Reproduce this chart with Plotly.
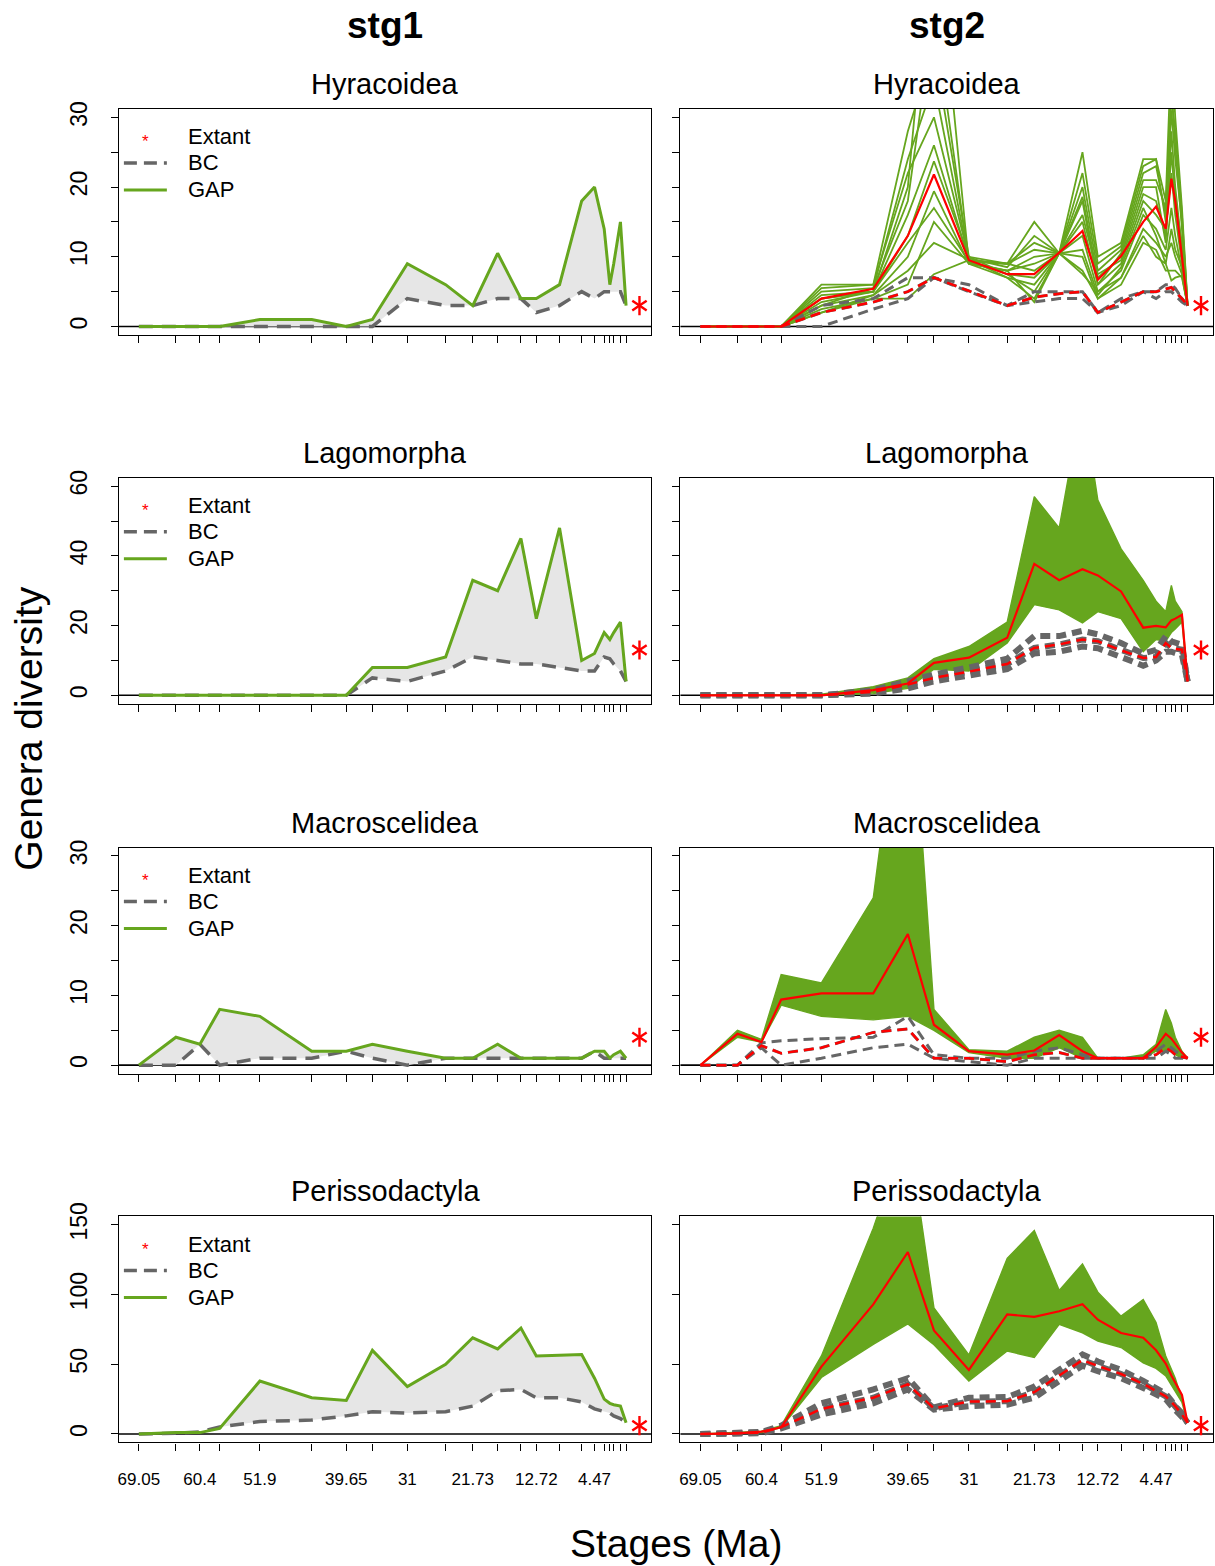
import plotly.graph_objects as go

# ---------------- data ----------------
stages = [69.05, 63.8, 60.4, 57.6, 51.9, 44.55, 39.65, 35.95, 31.0, 25.57, 21.73,
          18.2, 14.9, 12.72, 9.43, 6.29, 4.47, 3.1, 2.3, 1.75, 0.8, 0.0]
stage_labels = ["69.05", "", "60.4", "", "51.9", "", "39.65", "", "31", "", "21.73",
                "", "", "12.72", "", "", "4.47", "", "", "", "", ""]
extant_age = -1.9
clades = ["Hyracoidea", "Lagomorpha", "Macroscelidea", "Perissodactyla"]
extant_genera = [3, 13, 4, 6]

# stg1 : GAP and BC
hyr_gap = [0, 0, 0, 0, 1, 1, 0, 1, 9, 6, 3, 10.5, 4, 4, 6, 18, 20, 14, 6, 9, 15, 3]
hyr_bc = [0, 0, 0, 0, 0, 0, 0, 0, 4, 3, 3, 4, 4, 2, 3, 5, 4, 5, 5, 5, 5, 3]
lag_gap = [0, 0, 0, 0, 0, 0, 0, 8, 8, 11, 33, 30, 45, 22, 48, 10, 12, 18, 16, 18, 21, 4]
lag_bc = [0, 0, 0, 0, 0, 0, 0, 5, 4, 7, 11, 10, 9, 9, 8, 7, 7, 11, 10.5, 9, 7, 4]
mac_gap = [0, 4, 3, 8, 7, 2, 2, 3, 2, 1, 1, 3, 1, 1, 1, 1, 2, 2, 1, 1.5, 2, 1]
mac_bc = [0, 0, 3, 0, 1, 1, 2, 1, 0, 1, 1, 1, 1, 1, 1, 1, 2, 1, 1, 1, 1, 1]
per_gap = [0, 1, 1, 4, 38, 26, 24, 60, 34, 50, 69, 61, 76, 56, 56.5, 57, 40, 25, 22, 21, 20, 8]
per_bc = [0, 0.5, 1.5, 5, 9, 10, 13, 16, 15, 16, 20, 31, 32, 26, 26, 23, 18, 16, 15, 13, 11, 8]

# stg2 : mean GAP (red), mean BC (red dashed), replicate lines / envelopes
hyr2_mean_gap = [0, 0, 0, 0, 4, 5.4, 13, 21.8, 9.5, 7.5, 7.5, 10.6, 13.7, 6.7, 10.1, 15, 17.2, 14, 21.2, 18, 10, 3]
hyr2_mean_bc = [0, 0, 0, 0, 2, 3.5, 5, 7, 5.1, 3, 4.2, 4.7, 5, 2, 3.5, 5, 5, 5.4, 5.6, 5, 4, 3]
hyr2_rep1 = [0, 0, 0, 0, 6, 6, 28, 40, 10, 9, 15, 10.5, 25, 10, 12, 24, 24, 18, 40, 30, 17, 3]
hyr2_rep2 = [0, 0, 0, 0, 5, 5.5, 24, 35, 9.5, 9, 12, 10.5, 20, 8, 11, 22, 23, 16, 34, 26, 14, 3]
hyr2_rep3 = [0, 0, 0, 0, 4.5, 5, 20, 60, 9, 8, 9, 10.5, 18.6, 7, 10, 20, 20, 12, 28, 20, 11, 3]
hyr2_rep4 = [0, 0, 0, 0, 4, 5, 16, 26, 9.5, 7.5, 7, 10.5, 15, 6, 9, 18, 16, 14, 22, 16, 9, 3]
hyr2_rep5 = [0, 0, 0, 0, 3.5, 5, 13, 23.7, 10, 7.5, 5, 10.5, 13, 5, 8, 16, 14, 11, 17, 13, 8, 3]
hyr2_rep6 = [0, 0, 0, 0, 3, 4.5, 10, 19.4, 9, 7, 4, 10.5, 10, 4, 7, 14, 12, 10, 12, 10, 7.5, 3]
hyr2_rep7 = [0, 0, 0, 0, 2, 4, 6, 15, 9, 8, 3.5, 10.5, 8, 4, 6, 12, 11, 8, 8, 8, 7, 3]
hyr2_rep8 = [0, 0, 0, 0, 2.5, 4, 4, 7.5, 9.5, 9, 8, 10.5, 7.5, 5, 7, 13, 10, 9, 6.6, 7, 7.3, 3]
hyr2_rep9 = [0, 0, 0, 0, 5.5, 6, 22, 30, 9.8, 8.5, 13, 10.5, 22, 9, 11.5, 23, 24, 15, 31, 24, 15, 3]
hyr2_rep10 = [0, 0, 0, 0, 3, 5.5, 18, 45, 9.2, 8, 10, 10.5, 16, 7.5, 9.5, 19, 18, 13, 25, 18, 12, 3]
hyr2_rep11 = [0, 0, 0, 0, 2, 4.5, 8, 12, 9.6, 7, 6, 10.5, 11, 4.5, 8.5, 17, 13, 9, 14, 11, 8.5, 3]
hyr2_rep12 = [0, 0, 0, 0, 4, 5, 12, 17, 9.3, 9, 11, 10.5, 18, 6, 10.5, 21, 21, 17, 33, 28, 16, 3]
hyr2_bc_hi = [0, 0, 0, 0, 3, 4, 7, 7, 6, 3, 5, 5, 5, 2, 4, 5, 5, 6, 6, 5.5, 4, 3]
hyr2_bc_lo = [0, 0, 0, 0, 0, 2.5, 4, 7, 5, 3, 3.5, 4, 4, 2, 3, 5, 4, 5, 5, 4.5, 3.5, 3]

lag2_mean_gap = [0, 0, 0, 0, 0, 1.5, 3.4, 9.3, 10.8, 16.5, 37.7, 33, 36.2, 34.4, 29.8, 19.4, 19.9, 19.5, 21.5, 22, 23.1, 4]
lag2_mean_bc = [0, 0, 0, 0, 0, 1, 3.1, 5, 6.8, 9, 13.6, 14.6, 16, 15.5, 12.9, 10.7, 11, 15, 13.6, 13.3, 13.1, 4]
lag2_gap_hi = [0, 0, 0, 0, 0.3, 2.5, 5, 10.5, 14, 21, 57, 48, 85, 56, 42, 33, 27, 24, 31.5, 27, 24, 4]
lag2_gap_lo = [0, 0, 0, 0, 0, 0.5, 2, 7.5, 7, 15, 26, 24.5, 20.8, 24, 22, 12.5, 16, 15.5, 18, 19, 21, 4]
lag2_bc_hi = [0, 0, 0, 0, 0, 1.5, 4, 6, 8, 10.5, 17, 17, 18.5, 17.5, 15, 12, 13, 17, 15.5, 15, 14.5, 4]
lag2_bc_lo = [0, 0, 0, 0, 0, 0.5, 2, 4, 5.5, 7.5, 12, 12.5, 14, 13.5, 11, 8.5, 10, 12.5, 12.5, 12, 11.5, 4]

mac2_mean_gap = [0, 4.5, 3.3, 9.4, 10.3, 10.3, 18.8, 5.8, 2, 1.5, 2.1, 4.3, 2, 1, 1, 1, 2.6, 4.5, 3.8, 3, 1.8, 1]
mac2_mean_bc = [0, 0, 2.8, 1.7, 2.5, 4.7, 5.2, 1, 1, 0.5, 1.5, 1.8, 1, 1, 1, 1, 1.5, 2.5, 2, 1.5, 1.2, 1]
mac2_gap_hi = [0, 5, 3.7, 13, 11.8, 24, 62, 8, 2.2, 2, 4, 5, 4, 1, 1, 1.5, 3, 8, 6, 4, 2, 1]
mac2_gap_lo = [0, 4, 3.3, 8.6, 7, 6.5, 7, 5, 1.8, 1, 1, 2.5, 1, 1, 1, 1, 2, 2, 2, 1.5, 1, 1]
mac2_bc_hi = [0, 0, 3.2, 3.5, 3.8, 4, 7, 1.5, 1, 1, 2, 2.5, 1.5, 1, 1, 1, 2, 3, 2.5, 2, 1.5, 1]
mac2_bc_lo = [0, 0, 2.5, 0, 1, 2.5, 3, 1, 0.5, 0, 1, 1, 1, 1, 1, 1, 1, 2, 1.5, 1, 1, 1]

per2_mean_gap = [0, 0.5, 1.7, 4.8, 48.3, 92.9, 130.5, 74.3, 46, 85.7, 84, 88, 93, 82, 72.4, 69, 60, 50.5, 42, 37, 28, 8]
per2_mean_bc = [0, 0.3, 1, 5, 18, 26, 35.7, 18.3, 23.3, 23.5, 30, 42, 53, 48.8, 43, 36, 31, 27, 23, 20, 14, 8]
per2_gap_hi = [0, 1, 2, 6, 56, 147.6, 220, 90.5, 56.7, 126, 146, 103, 122, 101.7, 84.5, 96.4, 80, 56, 46, 40, 25, 8]
per2_gap_lo = [0, 0.5, 1, 4.5, 40.5, 64.3, 79, 64, 38, 59.5, 54.8, 78.6, 72.6, 66.7, 62, 51, 47, 41.7, 35, 30, 22.6, 8]
per2_bc_hi = [0, 0.5, 1.5, 6, 22, 32, 40, 19, 26, 26.5, 34, 46, 57, 52, 46, 38, 33, 29, 24, 20, 15, 8]
per2_bc_lo = [0, 0, 0.5, 4, 14, 22, 32, 17.5, 20, 21, 26, 38, 49, 45, 40, 33, 29, 25, 20, 17, 12, 8]

ylims = [(0, 30), (0, 60), (0, 30), (0, 150)]
ytickvals = [[0, 5, 10, 15, 20, 25, 30], [0, 10, 20, 30, 40, 50, 60],
             [0, 5, 10, 15, 20, 25, 30], [0, 50, 100, 150]]
yticktext = [["0", "", "10", "", "20", "", "30"], ["0", "", "20", "", "40", "", "60"],
             ["0", "", "10", "", "20", "", "30"], ["0", "50", "100", "150"]]

stg1_data = [(hyr_gap, hyr_bc), (lag_gap, lag_bc), (mac_gap, mac_bc), (per_gap, per_bc)]
stg2_data = [
    dict(mean_gap=hyr2_mean_gap, mean_bc=hyr2_mean_bc,
         reps=[hyr2_rep1, hyr2_rep2, hyr2_rep3, hyr2_rep4, hyr2_rep5, hyr2_rep6,
               hyr2_rep7, hyr2_rep8, hyr2_rep9, hyr2_rep10, hyr2_rep11, hyr2_rep12],
         bc_hi=hyr2_bc_hi, bc_lo=hyr2_bc_lo, bcw=3),
    dict(mean_gap=lag2_mean_gap, mean_bc=lag2_mean_bc, hi=lag2_gap_hi, lo=lag2_gap_lo,
         bc_hi=lag2_bc_hi, bc_lo=lag2_bc_lo, bcw=6),
    dict(mean_gap=mac2_mean_gap, mean_bc=mac2_mean_bc, hi=mac2_gap_hi, lo=mac2_gap_lo,
         bc_hi=mac2_bc_hi, bc_lo=mac2_bc_lo, bcw=3),
    dict(mean_gap=per2_mean_gap, mean_bc=per2_mean_bc, hi=per2_gap_hi, lo=per2_gap_lo,
         bc_hi=per2_bc_hi, bc_lo=per2_bc_lo, bcw=6),
]

# ---------------- style ----------------
W, H = 1215, 1566
FONT = "Liberation Sans, Arial, Helvetica, sans-serif"
GREEN = "#66A61E"
GREY = "#666666"
FILL = "#E6E6E6"
RED = "#FF0000"
col_px = [(118, 651), (680, 1213)]
row_px = [(108, 334), (477, 703), (847, 1073), (1216, 1442)]
XRANGE = [71.88, -3.6]


def vy(t):
    # paper fraction for a target vertical pixel (compensates renderer offset)
    return 1 - ((t - 13) / 0.9915) / H


fig = go.Figure()
layout = dict(width=W, height=H, margin=dict(l=0, r=0, t=0, b=0),
              paper_bgcolor="white", plot_bgcolor="white", showlegend=False,
              font=dict(family=FONT, color="black"))
shapes, annotations = [], []


def add(ax, x, y, **kw):
    fig.add_trace(go.Scatter(x=x, y=y, xaxis="x" + ax, yaxis="y" + ax,
                             hoverinfo="skip", showlegend=False, **kw))


def line(ax, y, color, width, dash="solid"):
    add(ax, stages, y, mode="lines", line=dict(color=color, width=width, dash=dash))


def band(ax, lo, hi, color):
    add(ax, stages + stages[::-1], hi + lo[::-1], mode="lines", fill="toself",
        fillcolor=color, line=dict(width=0, color=color))


for r in range(4):
    lo_y, hi_y = ylims[r]
    pad = (hi_y - lo_y) * 0.04
    for c in range(2):
        n = r * 2 + c + 1
        ax = "" if n == 1 else str(n)
        x0, x1 = col_px[c]
        t0, t1 = row_px[r]
        layout["xaxis" + ax] = dict(
            domain=[x0 / W, x1 / W], range=XRANGE, anchor="y" + ax,
            tickmode="array", tickvals=stages, ticktext=stage_labels,
            ticks="outside", ticklen=7, tickwidth=1.2, tickcolor="black",
            showline=True, linecolor="black", linewidth=1.3, mirror=True,
            showgrid=False, zeroline=False, showticklabels=(r == 3),
            tickfont=dict(size=17, family=FONT), tickangle=0, ticklabelstandoff=14)
        layout["yaxis" + ax] = dict(
            domain=[vy(t1), vy(t0)], range=[lo_y - pad, hi_y + pad], anchor="x" + ax,
            tickmode="array", tickvals=ytickvals[r], ticktext=yticktext[r],
            ticks="outside", ticklen=7, tickwidth=1.2, tickcolor="black",
            showline=True, linecolor="black", linewidth=1.3, mirror=True,
            showgrid=False, zeroline=False, showticklabels=(c == 0),
            tickfont=dict(size=23, family=FONT), tickangle=-90, ticklabelstandoff=15)
        xd = "x" + ax + " domain" if ax else "x domain"
        yd = "y" + ax + " domain" if ax else "y domain"
        # horizontal zero line
        shapes.append(dict(type="line", xref=xd, yref="y" + ax, x0=0, x1=1, y0=0, y1=0,
                           line=dict(color="black", width=1.6), layer="below"))
        # panel title
        annotations.append(dict(text=clades[r], xref="paper", yref="paper",
                                x=(x0 + x1) / 2 / W, y=vy(t0 - 25), showarrow=False,
                                xanchor="center", yanchor="middle",
                                font=dict(size=29, family=FONT)))
        if c == 0:
            gap, bc = stg1_data[r]
            band(ax, bc, gap, FILL)
            line(ax, bc, GREY, 3.5, "14px,9px")
            line(ax, gap, GREEN, 3)
            # legend
            pw, ph = x1 - x0, t1 - t0

            def fx(p):
                return (p - x0) / pw

            def fy(p):
                return 1 - (p - t0) / ph
            for k, (lbl, yy) in enumerate([("Extant", t0 + 28), ("BC", t0 + 54), ("GAP", t0 + 81)]):
                annotations.append(dict(text=lbl, xref=xd, yref=yd, x=fx(185), y=fy(yy),
                                        xanchor="left", yanchor="middle", showarrow=False,
                                        font=dict(size=22, family=FONT)))
            annotations.append(dict(text="*", xref=xd, yref=yd, x=fx(145), y=fy(t0 + 28),
                                    xanchor="center", yanchor="middle", showarrow=False,
                                    yshift=-5, font=dict(size=17, family=FONT, color=RED)))
            shapes.append(dict(type="line", xref=xd, yref=yd, x0=fx(123), x1=fx(166),
                               y0=fy(t0 + 54), y1=fy(t0 + 54),
                               line=dict(color=GREY, width=3.5, dash="13px,7px")))
            shapes.append(dict(type="line", xref=xd, yref=yd, x0=fx(123), x1=fx(166),
                               y0=fy(t0 + 81), y1=fy(t0 + 81),
                               line=dict(color=GREEN, width=3)))
        else:
            d = stg2_data[r]
            if "reps" in d:
                for rep in d["reps"]:
                    line(ax, rep, GREEN, 1.8)
            else:
                band(ax, d["lo"], d["hi"], GREEN)
                line(ax, d["hi"], GREEN, 1.4)
                line(ax, d["lo"], GREEN, 1.4)
            for yy in (d["bc_hi"], d["bc_lo"], d["mean_bc"]):
                line(ax, yy, GREY, d["bcw"], "10px,6px")
            line(ax, d["mean_gap"], RED, 2.2)
            line(ax, d["mean_bc"], RED, 2.5, "10px,6px")
        # extant star (6 arms)
        for sym in ("y-up-open", "y-down-open"):
            add(ax, [extant_age], [extant_genera[r]], mode="markers",
                marker=dict(symbol=sym, size=12, color=RED, line=dict(color=RED, width=2.4)))

# column titles and axis titles
annotations.append(dict(text="<b>stg1</b>", xref="paper", yref="paper", x=384.5 / W, y=vy(25),
                        showarrow=False, xanchor="center", yanchor="middle",
                        font=dict(size=37, family=FONT)))
annotations.append(dict(text="<b>stg2</b>", xref="paper", yref="paper", x=946.5 / W, y=vy(25),
                        showarrow=False, xanchor="center", yanchor="middle",
                        font=dict(size=37, family=FONT)))
annotations.append(dict(text="Genera diversity", xref="paper", yref="paper", x=28 / W, y=vy(728),
                        showarrow=False, xanchor="center", yanchor="middle", textangle=-90,
                        font=dict(size=39, family=FONT)))
annotations.append(dict(text="Stages (Ma)", xref="paper", yref="paper", x=676 / W, y=vy(1543),
                        showarrow=False, xanchor="center", yanchor="middle",
                        font=dict(size=39, family=FONT)))

layout["shapes"] = shapes
layout["annotations"] = annotations
fig.update_layout(**layout)
fig.write_html("out.html")
